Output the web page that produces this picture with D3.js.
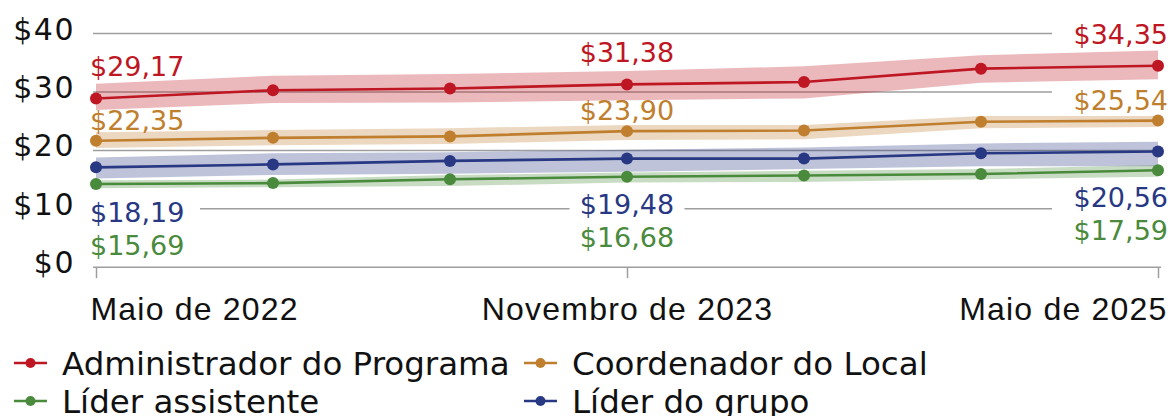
<!DOCTYPE html>
<html>
<head>
<meta charset="utf-8">
<script src="https://cdn.jsdelivr.net/npm/d3@7"></script>
<style>
	html, body { margin: 0; padding: 0; background: #fff; }
	svg { display: block; font-family: "DejaVu Sans", sans-serif; }
</style>
</head>
<body>
<svg id="chart" width="1172" height="416"></svg>
<script>
// periods, every six months
var periods = ['2022-05', '2022-11', '2023-05', '2023-11', '2024-05', '2024-11', '2025-05'];
var tickPeriods = ['2022-05', '2023-11', '2025-05'];
var tickLabels = ['Maio de 2022', 'Novembro de 2023', 'Maio de 2025'];
var yTicks = [0, 10, 20, 30, 40];

// Administrador do Programa
var adminValues = [28.9, 30.3, 30.6, 31.3, 31.7, 34.0, 34.5];
var adminLow = [26.9, 28.1, 28.2, 28.6, 28.9, 31.6, 32.2];
var adminHigh = [31.4, 32.8, 33.1, 33.6, 34.4, 36.3, 37.1];
var adminLabels = [29.17, 31.38, 34.35];

// Coordenador do Local
var coordValues = [21.66, 22.15, 22.4, 23.3, 23.4, 24.9, 25.1];
var coordLow = [20.4, 20.9, 21.1, 21.8, 21.9, 23.8, 24.0];
var coordHigh = [23.1, 23.5, 23.8, 24.35, 24.35, 25.9, 25.9];
var coordLabels = [22.35, 23.90, 25.54];

// Líder do grupo
var grupoValues = [17.1, 17.6, 18.2, 18.6, 18.6, 19.5, 19.8];
var grupoLow = [15.2, 15.8, 16.0, 16.35, 16.8, 17.3, 17.3];
var grupoHigh = [18.8, 19.5, 19.7, 20.1, 20.5, 21.2, 21.5];
var grupoLabels = [18.19, 19.48, 20.56];

// Líder assistente
var assistValues = [14.25, 14.4, 15.05, 15.5, 15.7, 15.96, 16.6];
var assistLow = [13.5, 13.7, 13.9, 14.5, 14.6, 15.05, 15.5];
var assistHigh = [14.9, 15.0, 15.8, 16.2, 16.5, 16.8, 17.5];
var assistLabels = [15.69, 16.68, 17.59];

var series = [
	{name: 'Administrador do Programa', color: '#be1622', values: adminValues, low: adminLow, high: adminHigh, labels: adminLabels, pos: 'above', dy: -22},
	{name: 'Coordenador do Local', color: '#bf7f2e', values: coordValues, low: coordLow, high: coordHigh, labels: coordLabels, pos: 'above', dy: -11},
	{name: 'Líder do grupo', color: '#283883', values: grupoValues, low: grupoLow, high: grupoHigh, labels: grupoLabels, pos: 'below', dy: 55},
	{name: 'Líder assistente', color: '#4a8a3c', values: assistValues, low: assistLow, high: assistHigh, labels: assistLabels, pos: 'below2', dy: 33}
];
var legendOrder = [0, 1, 3, 2];

var svg = d3.select('#chart');
var margin = {top: 33.6, left: 96, right: 14, bottom: 149};
var width = 1172, height = 416;

var x = d3.scalePoint().domain(periods).range([margin.left, width - margin.right]);
var y = d3.scaleLinear().domain([0, 40]).range([height - margin.bottom + 0.2, margin.top]);

// gridlines
svg.append('g').selectAll('line').data(yTicks).join('line')
	.attr('x1', margin.left - 3).attr('x2', width - margin.right + 3)
	.attr('y1', function(d) { return y(d); }).attr('y2', function(d) { return y(d); })
	.attr('stroke', '#9e9e9e').attr('stroke-width', 1.5);

// y labels
svg.append('g').selectAll('text').data(yTicks).join('text')
	.attr('x', 75).attr('y', function(d) { return y(d) + 6; })
	.attr('text-anchor', 'end').attr('font-size', 30).attr('letter-spacing', 1.5)
	.attr('fill', '#111')
	.text(function(d) { return '$' + d; });

// x axis ticks
var xAxis = svg.append('g')
	.attr('transform', 'translate(0,' + y(0) + ')')
	.call(d3.axisBottom(x).tickValues(tickPeriods).tickSize(11).tickFormat(''));
xAxis.select('.domain').remove();
xAxis.selectAll('.tick line').attr('stroke', '#9e9e9e').attr('stroke-width', 1.5);
xAxis.selectAll('.tick').append('text')
	.attr('y', 53).attr('fill', '#111').attr('font-size', 32).attr('letter-spacing', 1.2)
	.attr('text-anchor', function(d, i) { return i === 0 ? 'start' : (i === tickPeriods.length - 1 ? 'end' : 'middle'); })
	.attr('x', function(d, i) { return i === 0 ? -6 : (i === tickPeriods.length - 1 ? 9 : 0); })
	.text(function(d, i) { return tickLabels[i]; });

// value label positions (first, middle and last period)
var labelIdx = [0, 3, 6];
var labels = [];
series.forEach(function(s, si) {
	labelIdx.forEach(function(pi, k) {
		var ly;
		if (s.pos === 'below2') {
			ly = y(series[2].values[pi]) + series[2].dy + s.dy;
		} else {
			ly = y(s.values[pi]) + s.dy;
		}
		labels.push({s: s, k: k, x: x(periods[pi]), y: ly, v: s.labels[k]});
	});
});
var anchorOf = function(k) { return ['start', 'middle', 'end'][k]; };
var offsetOf = function(k) { return [-6, 0, 10][k]; };
var boxX = function(k) { return [-11, -57.5, -106][k]; };

// white boxes behind labels (hide gridlines)
svg.append('g').selectAll('rect').data(labels).join('rect')
	.attr('x', function(d) { return d.x + boxX(d.k); })
	.attr('y', function(d) { return d.y - 25; })
	.attr('width', 115).attr('height', 30)
	.attr('fill', '#fff');

// bands
var area = function(s) {
	return d3.area()
		.x(function(d, i) { return x(periods[i]); })
		.y0(function(d, i) { return y(s.low[i]); })
		.y1(function(d, i) { return y(s.high[i]); });
};
svg.append('g').selectAll('path').data(series).join('path')
	.attr('d', function(s) { return area(s)(s.values); })
	.attr('fill', function(s) { return s.color; })
	.attr('fill-opacity', 0.3);

// lines
var line = d3.line()
	.x(function(d, i) { return x(periods[i]); })
	.y(function(d) { return y(d); });
svg.append('g').selectAll('path').data(series).join('path')
	.attr('d', function(s) { return line(s.values); })
	.attr('fill', 'none')
	.attr('stroke', function(s) { return s.color; })
	.attr('stroke-width', 2.6);

// dots
series.forEach(function(s) {
	svg.append('g').selectAll('circle').data(s.values).join('circle')
		.attr('cx', function(d, i) { return x(periods[i]); })
		.attr('cy', function(d) { return y(d); })
		.attr('r', 6)
		.attr('fill', s.color);
});

// value labels
svg.append('g').selectAll('text').data(labels).join('text')
	.attr('x', function(d) { return d.x + offsetOf(d.k); })
	.attr('y', function(d) { return d.y; })
	.attr('text-anchor', function(d) { return anchorOf(d.k); })
	.attr('font-size', 27)
	.attr('fill', function(d) { return d.s.color; })
	.text(function(d) { return '$' + d.v.toFixed(2).replace('.', ','); });

// legend
var legendPos = [[14, 363], [524, 363], [14, 401], [524, 401]];
var legend = svg.append('g').selectAll('g').data(legendOrder).join('g')
	.attr('transform', function(d, i) { return 'translate(' + legendPos[i][0] + ',' + legendPos[i][1] + ')'; });
legend.append('line')
	.attr('x1', 0).attr('x2', 33).attr('y1', 0).attr('y2', 0)
	.attr('stroke', function(d) { return series[d].color; })
	.attr('stroke-width', 2.6);
legend.append('circle')
	.attr('cx', 16.5).attr('cy', 0).attr('r', 5)
	.attr('fill', function(d) { return series[d].color; });
legend.append('text')
	.attr('x', 48).attr('y', 12)
	.attr('font-size', 32.5).attr('fill', '#111')
	.text(function(d) { return series[d].name; });
</script>
</body>
</html>
